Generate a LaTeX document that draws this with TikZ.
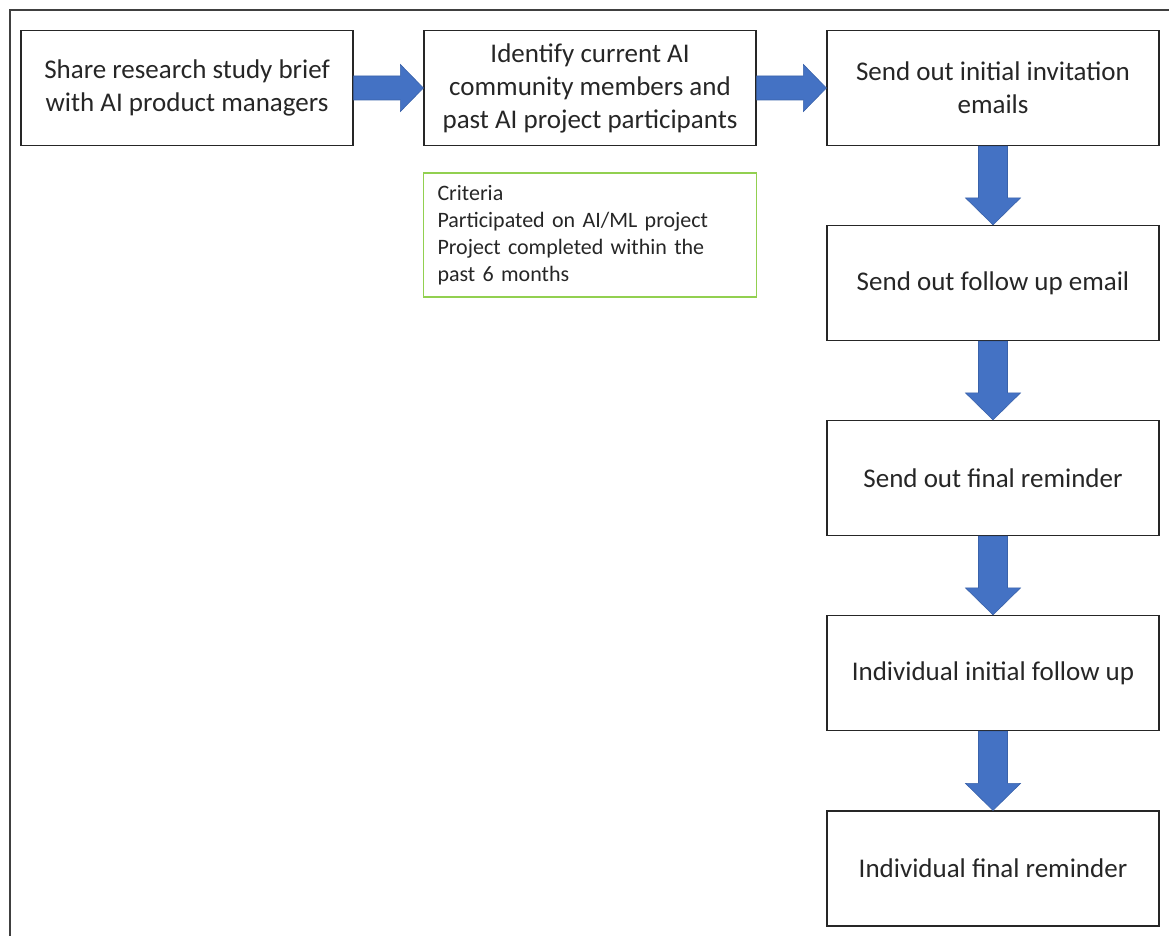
\documentclass[tikz,border=0pt]{standalone}
\usepackage{fontspec}
\setmainfont{Carlito}
\usetikzlibrary{calc}
\definecolor{arrowc}{HTML}{4472C4}
\definecolor{arrowd}{HTML}{3A62AA}
\definecolor{critc}{HTML}{92D050}
\definecolor{boxc}{HTML}{262626}
\tikzset{
  stepbox/.style={draw=boxc, line width=1.2pt, minimum width=332pt, minimum height=115pt,
    align=center, inner sep=0pt, font=\fontsize{27}{33}\selectfont, text=boxc},
  critbox/.style={draw=critc, line width=1.2pt, minimum width=333pt, minimum height=124pt,
    text width=305pt, align=left, inner xsep=14pt, inner ysep=0pt,
    font=\fontsize{22}{27}\selectfont, text=boxc},
  bigarrow/.style={fill=arrowc, draw=arrowd, line width=0.6pt},
}
\newcommand\harrowto[2]{%
  \path[bigarrow] ([yshift=12pt]#1.east) -- ([xshift=-23pt,yshift=12pt]#2.west)
    -- ([xshift=-23pt,yshift=23.5pt]#2.west) -- (#2.west)
    -- ([xshift=-23pt,yshift=-23.5pt]#2.west) -- ([xshift=-23pt,yshift=-12pt]#2.west)
    -- ([yshift=-12pt]#1.east) -- cycle;}
\newcommand\varrowto[2]{%
  \path[bigarrow] ([xshift=-14.5pt]#1.south) -- ([xshift=-14.5pt,yshift=27pt]#2.north)
    -- ([xshift=-27.5pt,yshift=27pt]#2.north) -- (#2.north)
    -- ([xshift=27.5pt,yshift=27pt]#2.north) -- ([xshift=14.5pt,yshift=27pt]#2.north)
    -- ([xshift=14.5pt]#1.south) -- cycle;}
\begin{document}
\begin{tikzpicture}[x=1pt,y=-1pt]
\useasboundingbox (0,0) rectangle (1169,936);
\coordinate (fa) at (10,936);
\coordinate (fb) at (10,10);
\coordinate (fc) at (1169,10);
\draw[draw=black!75, line width=1.3pt] (fa) -- (fb) -- (fc);

\node[stepbox] (s1) at (187,88) {Share research study brief\\with AI product managers};
\node[stepbox] (s2) at (590,88) {Identify current AI\\community members and\\past AI project participants};
\node[stepbox] (s3) at (993,88) {Send out initial invitation\\emails};
\node[stepbox] (s4) at (993,283) {Send out follow up email};
\node[stepbox] (s5) at (993,478) {Send out final reminder};
\node[stepbox] (s6) at (993,673) {Individual initial follow up};
\node[stepbox] (s7) at (993,868.5) {Individual final reminder};

\node[critbox] (c) at (590,235) {Criteria\\Participated on AI/ML project\\Project completed within the\\past 6 months};

\harrowto{s1}{s2}
\harrowto{s2}{s3}
\varrowto{s3}{s4}
\varrowto{s4}{s5}
\varrowto{s5}{s6}
\varrowto{s6}{s7}
\end{tikzpicture}
\end{document}
